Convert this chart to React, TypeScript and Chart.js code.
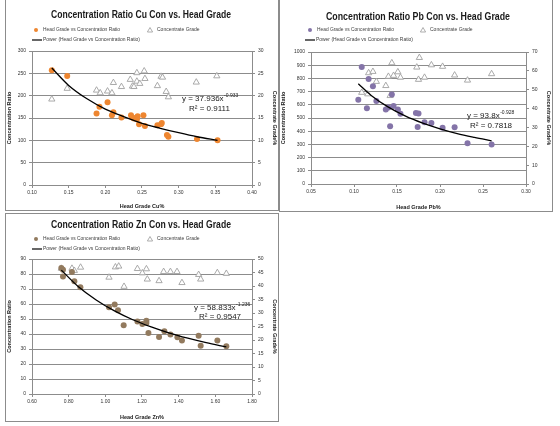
import React, { useEffect, useRef } from "react";
import { Chart, registerables } from "chart.js";

Chart.register(...registerables);

const FONT = "'Liberation Sans', 'DejaVu Sans', Arial, sans-serif";

// ---------- Cu data ----------
const cuHead = [0.127, 0.148, 0.188, 0.192, 0.203, 0.209, 0.211, 0.222, 0.235, 0.237, 0.239, 0.243, 0.244, 0.246, 0.252, 0.254, 0.271, 0.276, 0.277, 0.284, 0.286, 0.325, 0.353];
const cuRatio = [257, 244, 160, 175, 185, 156, 163, 151, 156, 151, 149, 147, 154, 136, 156, 132, 134, 136, 139, 112, 108, 103, 100];
const cuGradeHead = [0.127, 0.148, 0.188, 0.193, 0.203, 0.209, 0.211, 0.222, 0.234, 0.237, 0.239, 0.243, 0.243, 0.247, 0.253, 0.254, 0.271, 0.276, 0.278, 0.283, 0.286, 0.324, 0.352];
const cuGrade = [19.2, 21.6, 21.2, 20.6, 21.0, 20.6, 22.9, 22.0, 23.6, 22.1, 22.0, 25.1, 23.2, 22.7, 25.5, 23.8, 22.2, 24.3, 24.1, 20.9, 19.7, 23.0, 24.4];
const cuTrendX = [0.127, 0.15, 0.175, 0.2, 0.225, 0.25, 0.275, 0.3, 0.325, 0.353];
const cuTrendY = [262, 223, 193, 170, 153, 138, 127, 117, 108, 100];
const cuXTicks = [0.1, 0.4, 0.05];
const cuYTicks = [0, 300, 50];
const cuY2Ticks = [0, 30, 5];

// ---------- Pb data ----------
const pbHead = [0.105, 0.109, 0.115, 0.117, 0.122, 0.126, 0.137, 0.14, 0.142, 0.144, 0.146, 0.151, 0.154, 0.172, 0.175, 0.174, 0.182, 0.19, 0.203, 0.217, 0.232, 0.26];
const pbRatio = [638, 887, 573, 796, 741, 628, 565, 580, 437, 678, 590, 565, 533, 538, 535, 432, 467, 462, 427, 430, 309, 299];
const pbGradeHead = [0.109, 0.116, 0.117, 0.122, 0.126, 0.137, 0.14, 0.142, 0.144, 0.146, 0.151, 0.154, 0.173, 0.175, 0.176, 0.182, 0.19, 0.203, 0.217, 0.232, 0.26];
const pbGrade = [48.5, 47.7, 58.9, 59.6, 54.3, 52.1, 57.0, 46.8, 64.2, 57.5, 59.4, 56.5, 61.9, 55.4, 67.0, 56.5, 63.1, 62.3, 57.7, 55.0, 58.4];
const pbTrendX = [0.105, 0.12, 0.14, 0.16, 0.18, 0.2, 0.22, 0.24, 0.26];
const pbTrendY = [759, 671, 582, 514, 461, 418, 382, 353, 327];
const pbXTicks = [0.05, 0.3, 0.05];
const pbYTicks = [0, 1000, 100];
const pbY2Ticks = [0, 70, 10];

// ---------- Zn data ----------
const znHead = [0.76, 0.769, 0.769, 0.818, 0.831, 0.864, 1.02, 1.051, 1.069, 1.1, 1.175, 1.202, 1.224, 1.224, 1.235, 1.293, 1.322, 1.355, 1.393, 1.418, 1.509, 1.52, 1.611, 1.66];
const znRatio = [84.0, 82.9, 78.4, 81.3, 75.1, 71.1, 57.8, 59.6, 55.8, 45.8, 48.4, 46.7, 48.9, 47.3, 40.7, 38.0, 41.8, 39.6, 37.8, 35.6, 38.9, 32.2, 35.6, 31.8];
const znGradeHead = [0.76, 0.818, 0.831, 0.865, 1.02, 1.055, 1.073, 1.102, 1.175, 1.202, 1.224, 1.229, 1.293, 1.318, 1.355, 1.391, 1.418, 1.509, 1.52, 1.611, 1.66];
const znGrade = [46.5, 46.5, 45.7, 46.9, 43.2, 47.0, 47.3, 39.8, 46.4, 44.8, 46.3, 42.5, 41.9, 45.3, 45.3, 45.3, 41.2, 44.2, 42.5, 44.9, 44.6];
const znTrendX = [0.76, 0.85, 0.95, 1.05, 1.15, 1.25, 1.35, 1.45, 1.55, 1.66];
const znTrendY = [82.6, 71.9, 62.7, 55.4, 49.5, 44.7, 40.6, 37.2, 34.2, 31.4];
const znXTicks = [0.6, 1.8, 0.2];
const znYTicks = [0, 90, 10];
const znY2Ticks = [0, 50, 5];

const legendLabels = ["Head Grade vs Concentration Ratio", "Concentrate Grade", "Power (Head Grade vs Concentration Ratio)"];
const yTitle = "Concentration Ratio";
const y2Title = "Concentrate Grade%";

const GRID = "#8c8c8c";
const TICK = "#333333";

type Spec = {
  box: { left: number; top: number; w: number; h: number };
  area: { left: number; right: number; top: number; bottom: number };
  title: string;
  titleX: number;
  titleY: number;
  titleW: number;
  legendY: [number, number];
  legendX: { dot: number; lab1: number; tri: number; lab2: number; line: [number, number]; lab3: number };
  eq: { x: number; y: number; main: string; exp: string; rx: number; ry: number; r2: string };
  color: string;
  xTitle: string;
  head: number[];
  ratio: number[];
  gHead: number[];
  grade: number[];
  tx: number[];
  ty: number[];
  xt: number[];
  yt: number[];
  y2t: number[];
};

const pts = (xs: number[], ys: number[]) => xs.map((x, i) => ({ x, y: ys[i] }));

function makeOverlay(s: Spec) {
  return {
    id: "overlay",
    afterDraw(chart: any) {
      const ctx: CanvasRenderingContext2D = chart.ctx;
      ctx.save();
      // title
      ctx.fillStyle = "#1a1a1a";
      ctx.textBaseline = "middle";
      ctx.textAlign = "center";
      ctx.font = `bold 11px ${FONT}`;
      ctx.fillText(s.title, s.titleX, s.titleY, s.titleW);
      // legend
      ctx.textAlign = "left";
      ctx.font = `5px ${FONT}`;
      const [r1, r2] = s.legendY;
      const L = s.legendX;
      ctx.beginPath();
      ctx.fillStyle = s.color;
      ctx.arc(L.dot, r1, 2, 0, Math.PI * 2);
      ctx.fill();
      ctx.fillStyle = "#404040";
      ctx.fillText(legendLabels[0], L.lab1, r1, 77);
      ctx.beginPath();
      ctx.strokeStyle = "#9a9a9a";
      ctx.lineWidth = 0.8;
      ctx.moveTo(L.tri, r1 - 2.5);
      ctx.lineTo(L.tri + 2.6, r1 + 2);
      ctx.lineTo(L.tri - 2.6, r1 + 2);
      ctx.closePath();
      ctx.stroke();
      ctx.fillText(legendLabels[1], L.lab2, r1, 43);
      ctx.beginPath();
      ctx.strokeStyle = "#000";
      ctx.lineWidth = 1.2;
      ctx.moveTo(L.line[0], r2);
      ctx.lineTo(L.line[1], r2);
      ctx.stroke();
      ctx.fillText(legendLabels[2], L.lab3, r2, 97);
      // equation
      const E = s.eq;
      ctx.fillStyle = "#1a1a1a";
      ctx.font = `8px ${FONT}`;
      ctx.fillText(E.main, E.x, E.y);
      const mw = ctx.measureText(E.main).width;
      ctx.font = `5px ${FONT}`;
      ctx.fillText(E.exp, E.x + mw + 0.5, E.y - 3);
      ctx.font = `8px ${FONT}`;
      ctx.fillText(E.r2, E.rx, E.ry);
      ctx.restore();
    },
  };
}

function ChartBox({ s }: { s: Spec }) {
  const ref = useRef<HTMLCanvasElement>(null);
  const cw = s.box.w - 2;
  const ch = s.box.h - 2;
  useEffect(() => {
    if (!ref.current) return;
    const tickFont = { family: FONT, size: 5 };
    const titleFont = { family: FONT, size: 5.5, weight: "bold" as const };
    const chart = new Chart(ref.current, {
      type: "scatter",
      data: {
        datasets: [
          {
            type: "line" as any,
            label: legendLabels[2],
            data: pts(s.tx, s.ty),
            borderColor: "#000000",
            borderWidth: 1.3,
            pointRadius: 0,
            showLine: true,
            fill: false,
            cubicInterpolationMode: "monotone",
            yAxisID: "y",
            order: 0,
          } as any,
          {
            label: legendLabels[0],
            data: pts(s.head, s.ratio),
            backgroundColor: s.color,
            borderColor: s.color,
            borderWidth: 0,
            pointRadius: 3,
            pointStyle: "circle",
            yAxisID: "y",
            order: 1,
          },
          {
            label: legendLabels[1],
            data: pts(s.gHead, s.grade),
            backgroundColor: "rgba(255,255,255,0.9)",
            borderColor: "#a0a0a0",
            borderWidth: 0.9,
            pointRadius: 3.6,
            pointStyle: "triangle",
            yAxisID: "y1",
            order: 2,
          },
        ],
      },
      options: {
        responsive: false,
        animation: false,
        events: [],
        layout: { padding: { top: s.area.top, left: 0, right: 0, bottom: 0 } },
        plugins: { legend: { display: false }, title: { display: false }, tooltip: { enabled: false } },
        scales: {
          x: {
            type: "linear",
            min: s.xt[0],
            max: s.xt[1],
            afterBuildTicks: (sc: any) => {
              const t = [];
              for (let v = s.xt[0]; v <= s.xt[1] + 1e-9; v += s.xt[2]) t.push({ value: +v.toFixed(4) });
              sc.ticks = t;
            },
            afterFit: (sc: any) => {
              sc.height = ch - s.area.bottom;
            },
            ticks: { font: tickFont, color: TICK, padding: 2, maxRotation: 0, callback: (v: any) => Number(v).toFixed(2) },
            grid: { drawOnChartArea: false, drawTicks: true, tickLength: 3, color: GRID },
            border: { color: GRID, width: 1 },
            title: { display: true, text: s.xTitle, font: titleFont, color: "#1a1a1a", padding: { top: 3, bottom: 0 } },
          },
          y: {
            type: "linear",
            position: "left",
            min: s.yt[0],
            max: s.yt[1],
            afterFit: (sc: any) => {
              sc.width = s.area.left;
            },
            ticks: { stepSize: s.yt[2], font: tickFont, color: TICK, padding: 3, callback: (v: any) => String(v) },
            grid: { color: GRID, lineWidth: 1, tickLength: 3 },
            border: { color: GRID, width: 1 },
            title: { display: true, text: yTitle, font: titleFont, color: "#1a1a1a", padding: { top: 0, bottom: 2 } },
          },
          y1: {
            type: "linear",
            position: "right",
            min: s.y2t[0],
            max: s.y2t[1],
            afterFit: (sc: any) => {
              sc.width = cw - s.area.right;
            },
            ticks: { stepSize: s.y2t[2], font: tickFont, color: TICK, padding: 3, callback: (v: any) => String(v) },
            grid: { drawOnChartArea: false, tickLength: 3, color: GRID },
            border: { color: GRID, width: 1 },
            title: { display: true, text: y2Title, font: titleFont, color: "#1a1a1a", padding: { top: 0, bottom: 2 } },
          },
        },
      },
      plugins: [makeOverlay(s)],
    } as any);
    return () => chart.destroy();
  }, []);
  return (
    <div
      style={{
        position: "absolute",
        left: s.box.left,
        top: s.box.top,
        width: s.box.w,
        height: s.box.h,
        border: "1px solid #8c8c8c",
        boxSizing: "border-box",
        background: "#fff",
      }}
    >
      <canvas ref={ref} width={cw} height={ch} style={{ display: "block", width: cw, height: ch }} />
    </div>
  );
}

const specs: Spec[] = [
  {
    box: { left: 5, top: -1, w: 274, h: 212 },
    area: { left: 26, right: 246, top: 51, bottom: 185 },
    title: "Concentration Ratio Cu Con vs. Head Grade",
    titleX: 135,
    titleY: 15,
    titleW: 180,
    legendY: [30, 40],
    legendX: { dot: 30, lab1: 37, tri: 144, lab2: 151, line: [26, 36], lab3: 37 },
    eq: { x: 176, y: 99, main: "y = 37.936x", exp: "-0.933", rx: 183, ry: 109, r2: "R² = 0.9111" },
    color: "#ee8630",
    xTitle: "Head Grade Cu%",
    head: cuHead,
    ratio: cuRatio,
    gHead: cuGradeHead,
    grade: cuGrade,
    tx: cuTrendX,
    ty: cuTrendY,
    xt: cuXTicks,
    yt: cuYTicks,
    y2t: cuY2Ticks,
  },
  {
    box: { left: 279, top: -1, w: 274, h: 213 },
    area: { left: 31, right: 246, top: 52, bottom: 184 },
    title: "Concentration Ratio Pb Con vs. Head Grade",
    titleX: 138,
    titleY: 17,
    titleW: 184,
    legendY: [30, 40],
    legendX: { dot: 30, lab1: 37, tri: 143, lab2: 150, line: [25, 35], lab3: 36 },
    eq: { x: 187, y: 116, main: "y = 93.8x", exp: "-0.928", rx: 190, ry: 126, r2: "R² = 0.7818" },
    color: "#8474a8",
    xTitle: "Head Grade Pb%",
    head: pbHead,
    ratio: pbRatio,
    gHead: pbGradeHead,
    grade: pbGrade,
    tx: pbTrendX,
    ty: pbTrendY,
    xt: pbXTicks,
    yt: pbYTicks,
    y2t: pbY2Ticks,
  },
  {
    box: { left: 5, top: 213, w: 274, h: 209 },
    area: { left: 26, right: 246, top: 45, bottom: 180 },
    title: "Concentration Ratio Zn Con vs. Head Grade",
    titleX: 135,
    titleY: 11,
    titleW: 180,
    legendY: [25, 35],
    legendX: { dot: 30, lab1: 37, tri: 144, lab2: 151, line: [26, 36], lab3: 37 },
    eq: { x: 188, y: 94, main: "y = 58.833x", exp: "-1.236", rx: 193, ry: 103, r2: "R² = 0.9547" },
    color: "#927a5e",
    xTitle: "Head Grade Zn%",
    head: znHead,
    ratio: znRatio,
    gHead: znGradeHead,
    grade: znGrade,
    tx: znTrendX,
    ty: znTrendY,
    xt: znXTicks,
    yt: znYTicks,
    y2t: znY2Ticks,
  },
];

export default function App() {
  return (
    <div style={{ position: "fixed", left: 0, top: 0, width: 560, height: 426, background: "#fff", overflow: "hidden" }}>
      {specs.map((s, i) => (
        <ChartBox key={i} s={s} />
      ))}
    </div>
  );
}
